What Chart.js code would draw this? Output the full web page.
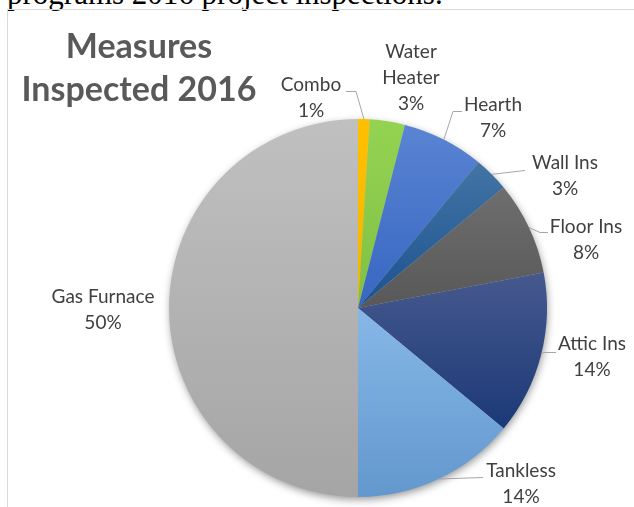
<!DOCTYPE html>
<html>
<head>
<meta charset="utf-8">
<script src="https://cdn.jsdelivr.net/npm/chart.js@4.4.1/dist/chart.umd.min.js"></script>
<style>
  html, body { margin: 0; padding: 0; background: #fff; overflow: hidden; }
  #page { position: relative; width: 634px; height: 507px; }
  #caption {
    position: absolute; left: 7px; top: -24px;
    font-family: "Liberation Serif", "Times New Roman", serif;
    font-size: 31px; color: #000; white-space: nowrap;
  }
  #frame {
    position: absolute; left: 7px; top: 9px; right: 0; bottom: 0;
    border-left: 1px solid #d9d9d9; border-top: 1px solid #d9d9d9;
  }
  #chart { position: absolute; left: 0; top: 0; }
</style>
</head>
<body>
<div id="page">
  <div id="caption">programs 2016 project inspections.</div>
  <div id="frame"></div>
  <canvas id="chart" width="634" height="507"></canvas>
</div>
<script>
// data (percent of inspections)
const labels = ['Combo', 'Water Heater', 'Hearth', 'Wall Ins', 'Floor Ins', 'Attic Ins', 'Tankless', 'Gas Furnace'];
const values = [1, 3, 7, 3, 8, 14, 14, 50];
// label text lines
const labelLines = [['Combo'], ['Water', 'Heater'], ['Hearth'], ['Wall Ins'], ['Floor Ins'], ['Attic Ins'], ['Tankless'], ['Gas Furnace']];

// slice colours, top -> bottom of each slice (office style gradient)
const sliceColors = [
  ['#ffc000', '#f2b600'],
  ['#94d352', '#80c042'],
  ['#5a84d3', '#3766c2'],
  ['#4474a5', '#1a5290'],
  ['#6e6e6e', '#585858'],
  ['#47598e', '#1b3977'],
  ['#86b7e7', '#6398ce'],
  ['#c0c0c0', '#a5a5a5']
];

// label centres and leader lines, offsets from the pie centre (layout only)
const labelPos = [[-47, -210], [53, -230], [135, -190], [207, -132], [228, -68], [234, 49], [163, 176], [-255, 2]];
const leaders = [
  [[-2, -217], [-12, -217]],
  null,
  [[95, -197], [104, -197]],
  [[167, -138]],
  [[182, -76], [190, -76]],
  [[185, 44], [198, 44]],
  [[125, 169]],
  null
];

const total = values.reduce((a, b) => a + b, 0);

const gradientFill = {
  id: 'gradientFill',
  beforeDatasetsDraw(chart) {
    const ctx = chart.ctx;
    const meta = chart.getDatasetMeta(0);
    const first = meta.data[0];
    // soft shadow under the pie
    ctx.save();
    ctx.beginPath();
    ctx.arc(first.x, first.y, first.outerRadius - 1, 0, Math.PI * 2);
    ctx.shadowColor = 'rgba(0,0,0,0.45)';
    ctx.shadowBlur = 9;
    ctx.shadowOffsetX = 1;
    ctx.shadowOffsetY = 3;
    ctx.fillStyle = '#bbb';
    ctx.fill();
    ctx.restore();

    meta.data.forEach((el, i) => {
      const r = el.outerRadius;
      const ys = [el.y, el.y + r * Math.sin(el.startAngle), el.y + r * Math.sin(el.endAngle)];
      // crossing top (-90deg) or bottom (90deg)
      const crosses = (a) => {
        for (let k = -2; k <= 2; k++) {
          const t = a + k * 2 * Math.PI;
          if (t >= el.startAngle && t <= el.endAngle) return true;
        }
        return false;
      };
      if (crosses(-Math.PI / 2)) ys.push(el.y - r);
      if (crosses(Math.PI / 2)) ys.push(el.y + r);
      const y0 = Math.min(...ys), y1 = Math.max(...ys);
      const g = ctx.createLinearGradient(0, y0, 0, y1);
      g.addColorStop(0, sliceColors[i][0]);
      g.addColorStop(1, sliceColors[i][1]);
      el.options.backgroundColor = g;
    });
  }
};

const outsideLabels = {
  id: 'outsideLabels',
  afterDraw(chart) {
    const ctx = chart.ctx;
    const meta = chart.getDatasetMeta(0);
    const cx = meta.data[0].x, cy = meta.data[0].y;
    ctx.save();

    // title
    ctx.fillStyle = '#595959';
    ctx.font = 'bold 34px Lato';
    ctx.textAlign = 'center';
    ctx.textBaseline = 'alphabetic';
    ctx.fillText('Measures', 139, 58);
    ctx.fillText('Inspected 2016', 139, 101);

    // leader lines
    ctx.strokeStyle = '#a6a6a6';
    ctx.lineWidth = 1;
    meta.data.forEach((el, i) => {
      if (!leaders[i]) return;
      const mid = (el.startAngle + el.endAngle) / 2;
      ctx.beginPath();
      ctx.moveTo(el.x + el.outerRadius * Math.cos(mid), el.y + el.outerRadius * Math.sin(mid));
      leaders[i].forEach(p => ctx.lineTo(cx + p[0], cy + p[1] + 0.5));
      ctx.stroke();
    });

    // labels
    ctx.fillStyle = '#404040';
    ctx.font = '19px Lato';
    ctx.textBaseline = 'middle';
    labels.forEach((name, i) => {
      const pct = Math.round(values[i] / total * 100) + '%';
      const lines = labelLines[i].concat([pct]);
      const x = cx + labelPos[i][0];
      const yTop = cy + labelPos[i][1] - (lines.length - 1) * 13;
      lines.forEach((t, k) => ctx.fillText(t, x, yTop + k * 26));
    });
    ctx.restore();
  }
};

new Chart(document.getElementById('chart').getContext('2d'), {
  type: 'pie',
  data: {
    labels: labels,
    datasets: [{
      data: values,
      backgroundColor: sliceColors.map(c => c[0]),
      borderWidth: 0
    }]
  },
  options: {
    responsive: false,
    devicePixelRatio: 1,
    animation: false,
    layout: { padding: { top: 119, bottom: 10, left: 169, right: 87 } },
    plugins: {
      legend: { display: false },
      tooltip: { enabled: false },
      title: { display: false }
    }
  },
  plugins: [gradientFill, outsideLabels]
});
</script>
</body>
</html>
